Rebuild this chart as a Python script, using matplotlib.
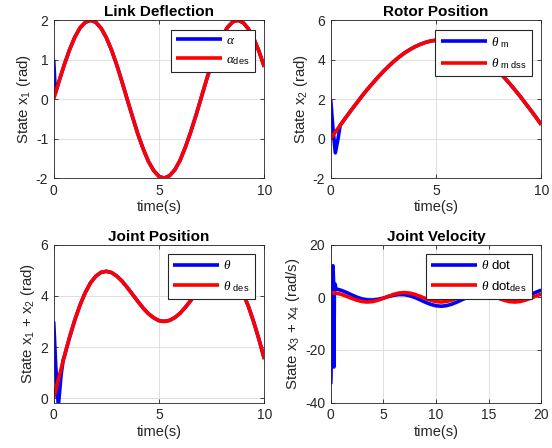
#!/usr/bin/env python3

import numpy as np
import matplotlib
matplotlib.use('Agg')
import matplotlib.pyplot as plt

plt.rcParams['font.family'] = ['Liberation Sans', 'DejaVu Sans']
plt.rcParams['mathtext.fontset'] = 'custom'
plt.rcParams['mathtext.rm'] = 'Liberation Sans'
plt.rcParams['mathtext.it'] = 'Liberation Serif:italic'
plt.rcParams['mathtext.bf'] = 'Liberation Sans:bold'
plt.rcParams['axes.unicode_minus'] = False

# ---- data ----
# time grid 0..10 s, 0.25 s step (position plots)
t_pos = [i * 0.25 for i in range(41)]

alpha_des = [0.00, 0.45, 0.87, 1.25, 1.57, 1.81, 1.95, 2.00, 1.95, 1.80,
             1.56, 1.24, 0.86, 0.43, -0.02, -0.46, -0.89, -1.26, -1.58, -1.81,
             -1.96, -2.00, -1.94, -1.79, -1.55, -1.22, -0.84, -0.42, 0.03, 0.48,
             0.90, 1.28, 1.59, 1.82, 1.96, 2.00, 1.94, 1.78, 1.54, 1.21, 0.82]
alpha_t0 = [0.0, 0.08]
alpha_v0 = [1.0, 0.15]

rotor_des = [0.00, 0.38, 0.75, 1.12, 1.48, 1.83, 2.18, 2.51, 2.82, 3.12,
             3.41, 3.67, 3.92, 4.14, 4.34, 4.51, 4.66, 4.78, 4.88, 4.95,
             4.99, 5.00, 4.99, 4.94, 4.87, 4.77, 4.65, 4.49, 4.32, 4.11,
             3.89, 3.65, 3.38, 3.09, 2.79, 2.47, 2.14, 1.79, 1.44, 1.08, 0.71]
rotor_t0 = [0.0, 0.1, 0.22, 0.35, 0.45]
rotor_v0 = [2.0, 0.6, -0.72, 0.0, 0.68]

joint_des = [0.00, 0.82, 1.62, 2.37, 3.05, 3.64, 4.13, 4.51, 4.77, 4.92,
             4.96, 4.91, 4.77, 4.57, 4.32, 4.05, 3.78, 3.52, 3.30, 3.14,
             3.03, 3.00, 3.04, 3.15, 3.32, 3.55, 3.81, 4.08, 4.35, 4.59,
             4.79, 4.92, 4.96, 4.91, 4.75, 4.47, 4.08, 3.58, 2.97, 2.29, 1.53]
joint_t0 = [0.0, 0.1, 0.22, 0.35, 0.45]
joint_v0 = [3.0, 1.2, -0.3, 0.9, 1.5]

# time grid 0..20 s, 0.5 s step (velocity plot)
t_vel = [i * 0.5 for i in range(41)]

vel_des = [1.80, 1.62, 1.12, 0.39, -0.41, -1.13, -1.63, -1.80, -1.61, -1.11,
           -0.38, 0.42, 1.14, 1.63, 1.80, 1.61, 1.10, 0.37, -0.44, -1.15,
           -1.64, -1.80, -1.60, -1.08, -0.35, 0.45, 1.17, 1.65, 1.80, 1.59,
           1.07, 0.34, -0.47, -1.18, -1.65, -1.80, -1.59, -1.06, -0.32, 0.48, 1.19]
vel_act = [3.40, 3.20, 2.65, 1.84, 0.91, 0.04, -0.63, -1.00, -1.03, -0.76,
           -0.27, 0.30, 0.78, 1.04, 0.99, 0.60, -0.09, -0.96, -1.89, -2.69,
           -3.22, -3.40, -3.18, -2.61, -1.79, -0.86, 0.01, 0.66, 1.02, 1.03,
           0.73, 0.24, -0.33, -0.80, -1.05, -0.98, -0.57, 0.13, 1.02, 1.93, 2.73]
vel_t0 = [0.0, 0.03, 0.08, 0.14, 0.22, 0.27, 0.31, 0.35, 0.42]
vel_v0 = [-33.0, -30.0, -4.0, 11.0, 12.0, 6.0, -26.5, 3.0, 5.0]

titles = ['Link Deflection', 'Rotor Position', 'Joint Position', 'Joint Velocity']
ylabels = ['State x$_1$ (rad)', 'State x$_2$ (rad)',
           'State x$_1$ + x$_2$ (rad)', 'State x$_3$ + x$_4$ (rad/s)']
legends = [[r'$\alpha$', r'$\alpha_{\rm des}$'],
           [r'$\theta\ {}_{\rm m}$', r'$\theta\ {}_{\rm m\ dss}$'],
           [r'$\theta$', r'$\theta\ {}_{\rm des}$'],
           [r'$\theta$ dot', r'$\theta$ dot$_{\rm des}$']]


def splice(t0, v0, t, v):
    # transient samples followed by the tracked part of the curve
    tt = list(t0) + [x for x in t if x > t0[-1]]
    vv = list(v0) + [y for x, y in zip(t, v) if x > t0[-1]]
    return tt, vv


series = [
    (t_pos, alpha_des, *splice(alpha_t0, alpha_v0, t_pos, alpha_des)),
    (t_pos, rotor_des, *splice(rotor_t0, rotor_v0, t_pos, rotor_des)),
    (t_pos, joint_des, *splice(joint_t0, joint_v0, t_pos, joint_des)),
    (t_vel, vel_des, *splice(vel_t0, vel_v0, t_vel, vel_act)),
]

limits = [((0, 10), (-2, 2), [0, 5, 10], [-2, -1, 0, 1, 2]),
          ((0, 10), (-2, 6), [0, 5, 10], [-2, 0, 2, 4, 6]),
          ((0, 10), (-0.17, 6), [0, 5, 10], [0, 2, 4, 6]),
          ((0, 20), (-40, 20), [0, 5, 10, 15, 20], [-40, -20, 0, 20])]

W, H = 552, 448
boxes = [(53.7, 20.3), (330.7, 20.3), (53.7, 244.7), (330.7, 244.7)]
aw, ah = 210.6, 157.8

fig = plt.figure(figsize=(W / 100, H / 100), dpi=100)
dark = '0.15'

for i in range(4):
    x0, y0 = boxes[i]
    ax = fig.add_axes([x0 / W, 1 - (y0 + ah) / H, aw / W, ah / H])
    td, vd, ta, va = series[i]
    ax.plot(ta, va, color='#0000ff', lw=2.6, solid_capstyle='butt', label=legends[i][0])
    ax.plot(td, vd, color='#ff0000', lw=2.6, solid_capstyle='butt', label=legends[i][1])

    xl, yl, xt, yt = limits[i]
    ax.set_xlim(*xl)
    ax.set_ylim(*yl)
    ax.set_xticks(xt)
    ax.set_yticks(yt)
    ax.grid(True, color='0.87', lw=0.7)
    ax.set_axisbelow(True)
    ax.tick_params(direction='in', length=3, width=0.6, top=True, right=True,
                   labelsize=10, colors=dark, pad=4)
    for s in ax.spines.values():
        s.set_color(dark)
        s.set_linewidth(0.6)

    ax.set_title(titles[i], fontsize=11, fontweight='bold', pad=3)
    ax.set_xlabel('time(s)', fontsize=10.5, color=dark, labelpad=2)
    ax.set_ylabel(ylabels[i], fontsize=10.8, color=dark, labelpad=2)

    leg = ax.legend(loc='upper right', fontsize=9.5, handlelength=3.5,
                    handletextpad=0.3, borderaxespad=0.7, fancybox=False,
                    framealpha=1, edgecolor='0.15', borderpad=0.4,
                    labelspacing=0.5)
    leg.get_frame().set_linewidth(0.8)

fig.savefig('out.png', dpi=100, facecolor='white')
